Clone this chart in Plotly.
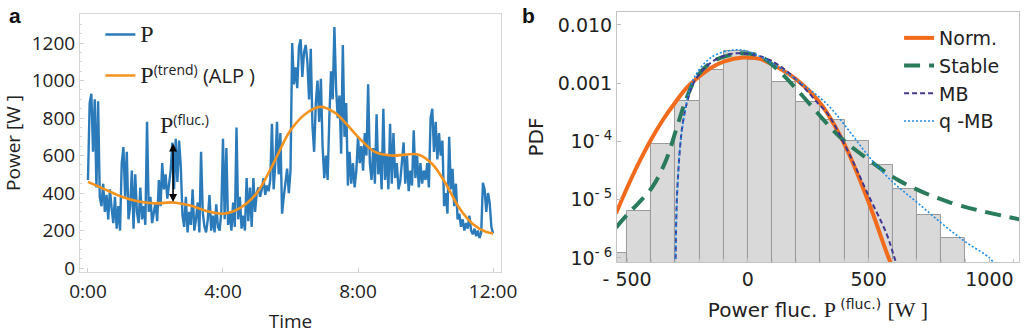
import plotly.graph_objects as go

# ---------------- Panel a data ----------------
sample_minutes = list(range(0, 721, 3))  # 3-minute sampling, 0:00 .. 12:00
power = [
    470, 880, 930, 620, 900, 430, 890, 380, 330, 450, 300, 390, 260, 420, 320, 240, 380, 210, 330, 200,
    560, 645, 380, 620, 260, 330, 520, 210, 500, 300, 240, 430, 260, 330, 230, 780, 300, 380, 240, 290,
    350, 250, 470, 330, 560, 420, 500, 370, 460, 520, 670, 420, 690, 460, 680, 540, 280, 220, 380, 190,
    300, 230, 420, 200, 260, 350, 190, 620, 300, 220, 190, 260, 390, 200, 280, 190, 340, 220, 200, 300,
    690, 260, 640, 230, 300, 200, 350, 220, 750, 260, 380, 210, 280, 200, 480, 250, 430, 220, 480, 300,
    400, 430, 380, 420, 480, 390, 440, 410, 470, 770, 420, 560, 780, 500, 720, 290, 380, 450, 530, 400,
    520, 1200, 980, 1070, 960, 1180, 1220, 1020, 1150, 1190, 1100, 900, 1170, 760, 620, 880, 1000, 780, 1010, 650,
    480, 600, 470, 800, 1050, 900, 1285, 960, 800, 920, 610, 1190, 700, 880, 440, 620, 450, 560, 430, 520,
    700, 560, 650, 520, 720, 600, 980, 560, 470, 640, 450, 820, 500, 620, 420, 850, 470, 600, 420, 770,
    450, 720, 480, 560, 420, 460, 560, 670, 450, 600, 410, 520, 440, 735, 480, 600, 430, 560, 450, 520,
    470, 560, 430, 800, 850, 620, 780, 580, 720, 600, 680, 330, 400, 290, 700, 420, 530, 330, 450, 260,
    290, 220, 260, 200, 240, 210, 280, 200, 180, 210, 170, 200, 160, 190, 455, 420, 300, 400, 350, 220,
    185,
]
time_hours = [m / 60 for m in sample_minutes]

trend_hours = [0, 0.5, 1.0, 1.5, 2.0, 2.5, 3.0, 3.5, 4.0, 4.5, 5.0, 5.5, 6.0, 6.5, 6.9,
               7.3, 7.6, 8.0, 8.5, 9.0, 9.4, 9.8, 10.2, 10.6, 11.0, 11.4, 11.8, 12.0]
trend_power = [460, 420, 380, 355, 345, 350, 335, 305, 290, 320, 400, 560, 735, 830, 860,
               830, 780, 700, 620, 600, 605, 605, 555, 450, 320, 235, 192, 185]

time_ticks = [0, 4, 8, 12]
time_labels = ["0:00", "4:00", "8:00", "12:00"]
power_ticks = [0, 200, 400, 600, 800, 1000, 1200]

fluc_time = 2.52
fluc_low = 352
fluc_high = 672

# ---------------- Panel b data ----------------
bin_centers = [-550, -450, -350, -250, -150, -50, 50, 150, 250, 350, 450, 550, 650, 750, 850]
bin_pdf = [1.2e-6, 6.5e-6, 9e-5, 5e-4, 1.7e-3, 3.6e-3, 2.5e-3, 1.05e-3, 4.8e-4, 2.3e-4,
           1.0e-4, 3.9e-5, 1.5e-5, 5.5e-6, 2.2e-6]

norm_x = [-546, -500, -450, -400, -350, -300, -250, -200, -150, -100, -20, 50, 100, 200,
          300, 400, 500, 583, 620]
norm_y = [5.8e-6, 1.6e-5, 4.4e-5, 1.09e-4, 2.4e-4, 4.7e-4, 8.6e-4, 1.31e-3, 1.85e-3, 2.34e-3,
          2.75e-3, 2.6e-3, 2.1e-3, 1.16e-3, 4.5e-4, 8.9e-5, 9e-6, 1.0e-6, 4.5e-7]

stable_x = [-546, -500, -450, -393, -335, -293, -252, -211, -150, -80, -20, 50, 130, 200,
            260, 380, 504, 628, 835, 1136]
stable_y = [3.3e-6, 5.5e-6, 9e-6, 1.7e-5, 5.2e-5, 1.8e-4, 5.8e-4, 1.3e-3, 2.3e-3, 3.0e-3,
            3.25e-3, 2.9e-3, 1.6e-3, 8e-4, 4.2e-4, 1.2e-4, 4.7e-5, 2.1e-5, 9e-6, 4.5e-6]

mb_x = [-300, -295, -288, -281, -270, -250, -220, -150, -80, -30, 50, 130, 215, 290, 330,
        425, 491, 574, 607, 630]
mb_y = [5e-7, 8e-6, 3e-5, 7.7e-5, 2e-4, 5e-4, 1.1e-3, 2.3e-3, 3.1e-3, 3.25e-3, 2.9e-3,
        2.0e-3, 1.0e-3, 4.5e-4, 3.0e-4, 5.5e-5, 1.4e-5, 2.6e-6, 1.0e-6, 5e-7]

qmb_x = [-302, -297, -293, -281, -265, -248, -220, -150, -60, 0, 100, 200, 329, 420, 504,
         600, 700, 800, 900, 1000, 1030]
qmb_y = [5e-7, 3e-6, 1.1e-5, 8e-5, 2.5e-4, 6e-4, 1.3e-3, 2.8e-3, 3.7e-3, 3.5e-3, 2.2e-3,
         1.15e-3, 4.3e-4, 1.5e-4, 5.3e-5, 2.0e-5, 9e-6, 4e-6, 1.9e-6, 1.0e-6, 7e-7]

pdf_ticks = [1e-6, 1e-5, 1e-4, 1e-3, 1e-2]
pdf_labels = ["10<sup>- 6</sup>", "10<sup>- 5</sup>", "10<sup>- 4</sup>", "0.001", "0.010"]
fluc_ticks = [-500, 0, 500, 1000]
fluc_labels = ["- 500", "0", "500", "1000"]

SANS_A = "Open Sans"
SANS_B = "DejaVu Sans"
SERIF_SPAN = '<span style="font-family:Liberation Serif;font-size:{}px">{}</span>'

fig = go.Figure()

# Panel a traces
fig.add_trace(go.Scatter(
    x=time_hours, y=power, mode="lines",
    line=dict(color="#2b7bba", width=2.4),
    name=SERIF_SPAN.format(24, "P"), legendgroup="g1",
    xaxis="x", yaxis="y", legend="legend"))
fig.add_trace(go.Scatter(
    x=trend_hours, y=trend_power, mode="lines", line_shape="spline",
    line=dict(color="#f3921f", width=2.6),
    name=SERIF_SPAN.format(24, "P") + '<sup>(trend)</sup> (ALP )', legendgroup="g2",
    xaxis="x", yaxis="y", legend="legend"))

# Panel b traces
fig.add_trace(go.Bar(
    x=bin_centers, y=bin_pdf, width=[100] * len(bin_centers),
    marker=dict(color="#d9d9d9", line=dict(color="#9a9a9a", width=1)),
    showlegend=False, xaxis="x2", yaxis="y2"))
fig.add_trace(go.Scatter(
    x=norm_x, y=norm_y, mode="lines", line_shape="spline",
    line=dict(color="#f26b1d", width=4), name="Norm.",
    xaxis="x2", yaxis="y2", legend="legend2"))
fig.add_trace(go.Scatter(
    x=stable_x, y=stable_y, mode="lines", line_shape="spline",
    line=dict(color="#2a7a5c", width=4, dash="16px,9px"), name="Stable",
    xaxis="x2", yaxis="y2", legend="legend2"))
fig.add_trace(go.Scatter(
    x=mb_x, y=mb_y, mode="lines", line_shape="spline",
    line=dict(color="#403890", width=2, dash="5px,3px"), name="MB",
    xaxis="x2", yaxis="y2", legend="legend2"))
fig.add_trace(go.Scatter(
    x=qmb_x, y=qmb_y, mode="lines", line_shape="spline",
    line=dict(color="#1f8ce6", width=1.6, dash="2px,2px"), name="q -MB",
    xaxis="x2", yaxis="y2", legend="legend2"))

axis_common = dict(showgrid=False, zeroline=False, showline=True, mirror=True,
                   ticks="inside", ticklen=4, automargin=False)

fig.update_layout(
    width=1024, height=334,
    margin=dict(l=0, r=0, t=0, b=0, autoexpand=False),
    paper_bgcolor="white", plot_bgcolor="white",
    bargap=0,
    xaxis=dict(domain=[0.0781, 0.4893], range=[-0.237, 12.237],
               tickvals=time_ticks, ticktext=time_labels, ticklabelstandoff=2,
               linecolor="#d6d6d6", tickcolor="#cfcfcf",
               tickfont=dict(family=SANS_A, size=19, color="#222"),
               title=dict(text="Time", font=dict(family=SANS_A, size=19, color="#222"), standoff=15),
               anchor="y", **axis_common),
    yaxis=dict(domain=[0.1856, 0.958], range=[-21, 1355],
               tickvals=power_ticks,
               linecolor="#d6d6d6", tickcolor="#cfcfcf",
               minor=dict(dtick=50, ticks="inside", ticklen=2, tickcolor="#d6d6d6"),
               tickfont=dict(family=SANS_A, size=19, color="#222"),
               title=dict(text="Power [W ]", font=dict(family=SANS_A, size=19, color="#222"), standoff=6),
               anchor="x", **axis_common),
    xaxis2=dict(domain=[0.6025, 0.995], range=[-542, 1122],
                tickvals=fluc_ticks, ticktext=fluc_labels,
                linecolor="#c4c4c4", tickcolor="#bdbdbd",
                minor=dict(dtick=100, ticks="inside", ticklen=3, tickcolor="#c4c4c4"),
                tickfont=dict(family=SANS_B, size=19, color="#222"),
                title=dict(text='Power fluc. ' + SERIF_SPAN.format(22, "P")
                                + '<sup> (fluc.)</sup> ' + SERIF_SPAN.format(22, "[W ]"),
                           font=dict(family=SANS_B, size=20, color="#222"), standoff=14),
                anchor="y2", **axis_common),
    yaxis2=dict(domain=[0.2156, 0.964], type="log", range=[-6.07, -1.78],
                tickvals=pdf_ticks, ticktext=pdf_labels,
                linecolor="#c4c4c4", tickcolor="#bdbdbd",
                tickfont=dict(family=SANS_B, size=19, color="#222"),
                title=dict(text="PDF", font=dict(family=SANS_B, size=20, color="#222"), standoff=8),
                anchor="x2", **axis_common),
    legend=dict(x=0.098, y=0.955, xanchor="left", yanchor="top",
                bgcolor="rgba(0,0,0,0)", borderwidth=0,
                font=dict(family=SANS_A, size=20, color="#222"), tracegroupgap=12),
    legend2=dict(x=0.878, y=0.943, xanchor="left", yanchor="top",
                 bgcolor="rgba(0,0,0,0)", borderwidth=0,
                 font=dict(family=SANS_B, size=19, color="#222")),
    annotations=[
        dict(x=fluc_time, y=fluc_low, ax=fluc_time, ay=fluc_high, xref="x", yref="y",
             axref="x", ayref="y", text="", showarrow=True, arrowhead=2, startarrowhead=2,
             arrowside="end+start", arrowsize=1, arrowwidth=1.6, arrowcolor="black"),
        dict(x=2.87, y=770, xref="x", yref="y", showarrow=False, xanchor="center",
             text=SERIF_SPAN.format(24, "P") + '<sup>(fluc.)</sup>',
             font=dict(family=SANS_A, size=20, color="#222")),
        dict(x=0.007, y=0.995, xref="paper", yref="paper", showarrow=False,
             xanchor="left", yanchor="top", text="<b>a</b>",
             font=dict(family="Liberation Sans", size=21, color="#111")),
        dict(x=0.508, y=0.995, xref="paper", yref="paper", showarrow=False,
             xanchor="left", yanchor="top", text="<b>b</b>",
             font=dict(family="Liberation Sans", size=21, color="#111")),
    ],
)

fig.write_html("out.html")
